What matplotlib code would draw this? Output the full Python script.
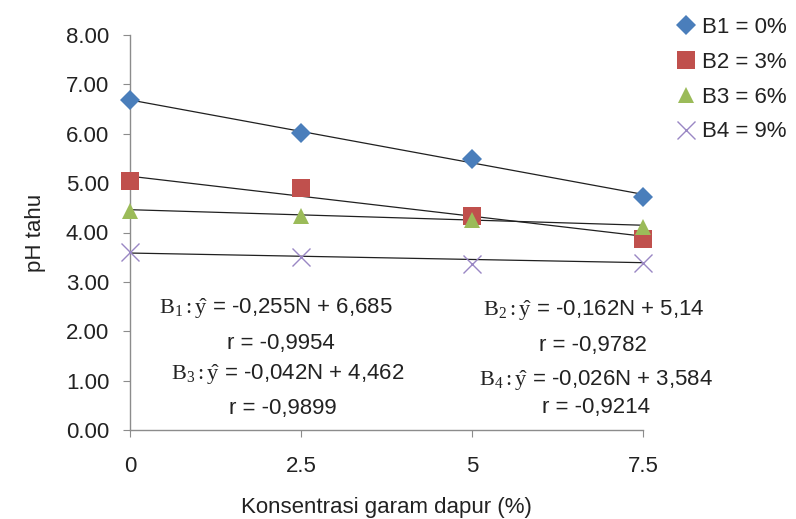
import matplotlib
matplotlib.use('Agg')
import matplotlib.pyplot as plt
import numpy as np

plt.rcParams['font.family'] = ['Liberation Sans', 'DejaVu Sans']
plt.rcParams['mathtext.fontset'] = 'custom'
plt.rcParams['mathtext.rm'] = 'Liberation Serif'
plt.rcParams['mathtext.it'] = 'Liberation Serif:italic'

# data
konsentrasi = [0, 2.5, 5, 7.5]
b1 = [6.69, 6.01, 5.49, 4.71]
b2 = [5.04, 4.90, 4.33, 3.86]
b3 = [4.44, 4.33, 4.25, 4.11]
b4 = [3.60, 3.51, 3.37, 3.39]
labels = ['B1 = 0%', 'B2 = 3%', 'B3 = 6%', 'B4 = 9%']
slopes = [-0.255, -0.162, -0.042, -0.026]
intercepts = [6.685, 5.14, 4.462, 3.584]
eq_texts = ['-0,255N + 6,685', '-0,162N + 5,14', '-0,042N + 4,462', '-0,026N + 3,584']
r_values = ['-0,9954', '-0,9782', '-0,9899', '-0,9214']

series = [b1, b2, b3, b4]
markers = ['D', 's', '^', 'x']
colors = ['#4A7EBB', '#C0504D', '#9BBB59', '#9A87C4']
msizes = [10, 13, 12, 13]

fig = plt.figure(figsize=(7.96, 5.19), dpi=100)
ax = fig.add_axes([130/796, 89/519, 513/796, 395/519])

xs = np.array([0, 7.5])
handles = []
for ys, m, c, ms, a, b in zip(series, markers, colors, msizes, intercepts, slopes):
    # linear trend line from the printed regression equation
    ax.plot(xs, a + b*xs, color='#202020', lw=0.9, zorder=2, clip_on=False)
    h, = ax.plot(konsentrasi, ys, linestyle='none', marker=m, color=c,
                 markersize=ms, markeredgewidth=1.0 if m == 'x' else 0,
                 zorder=3, clip_on=False)
    handles.append(h)

ax.set_xlim(0, 7.5)
ax.set_ylim(0, 8)
ax.set_xticks(konsentrasi)
ax.set_xticklabels(['0', '2.5', '5', '7.5'])
ax.set_yticks(np.arange(0, 9, 1))
ax.set_yticklabels([f'{v:.2f}' for v in range(9)])

for s in ['top', 'right']:
    ax.spines[s].set_visible(False)
for s in ['left', 'bottom']:
    ax.spines[s].set_color('#8C8C8C')
    ax.spines[s].set_linewidth(1.0)
ax.tick_params(axis='both', colors='#8C8C8C', labelcolor='#222222', labelsize=16)
ax.tick_params(axis='x', direction='out', length=5, pad=14)
ax.tick_params(axis='y', direction='out', length=5, pad=10)

ax.set_xlabel('Konsentrasi garam dapur (%)', fontsize=16, color='#222222', labelpad=14)
ax.set_ylabel('pH tahu', fontsize=16, color='#222222', labelpad=14)

# regression annotations
eq_pos = [(2.13, 2.46), (6.78, 2.41), (2.3, 1.12), (6.81, 1.01)]
r_pos = [(2.2, 1.76), (6.77, 1.71), (2.24, 0.43), (6.81, 0.45)]
for i in range(4):
    ex, ey = eq_pos[i]
    ax.text(ex, ey, r'$\mathrm{B}_%d : \hat{\mathrm{y}}$' % (i + 1) + ' = ' + eq_texts[i],
            ha='center', va='center', fontsize=16, color='#222222')
    rx, ry = r_pos[i]
    ax.text(rx, ry, 'r = ' + r_values[i], ha='center', va='center', fontsize=16, color='#222222')

leg = fig.legend(handles, labels, loc='upper left', bbox_to_anchor=(678/796, 1 - 17/519),
                 frameon=False, fontsize=16, handlelength=0.7, handletextpad=0.4,
                 labelspacing=0.62, borderaxespad=0, borderpad=0)
for t in leg.get_texts():
    t.set_color('#222222')

fig.savefig('out.png', dpi=100)
